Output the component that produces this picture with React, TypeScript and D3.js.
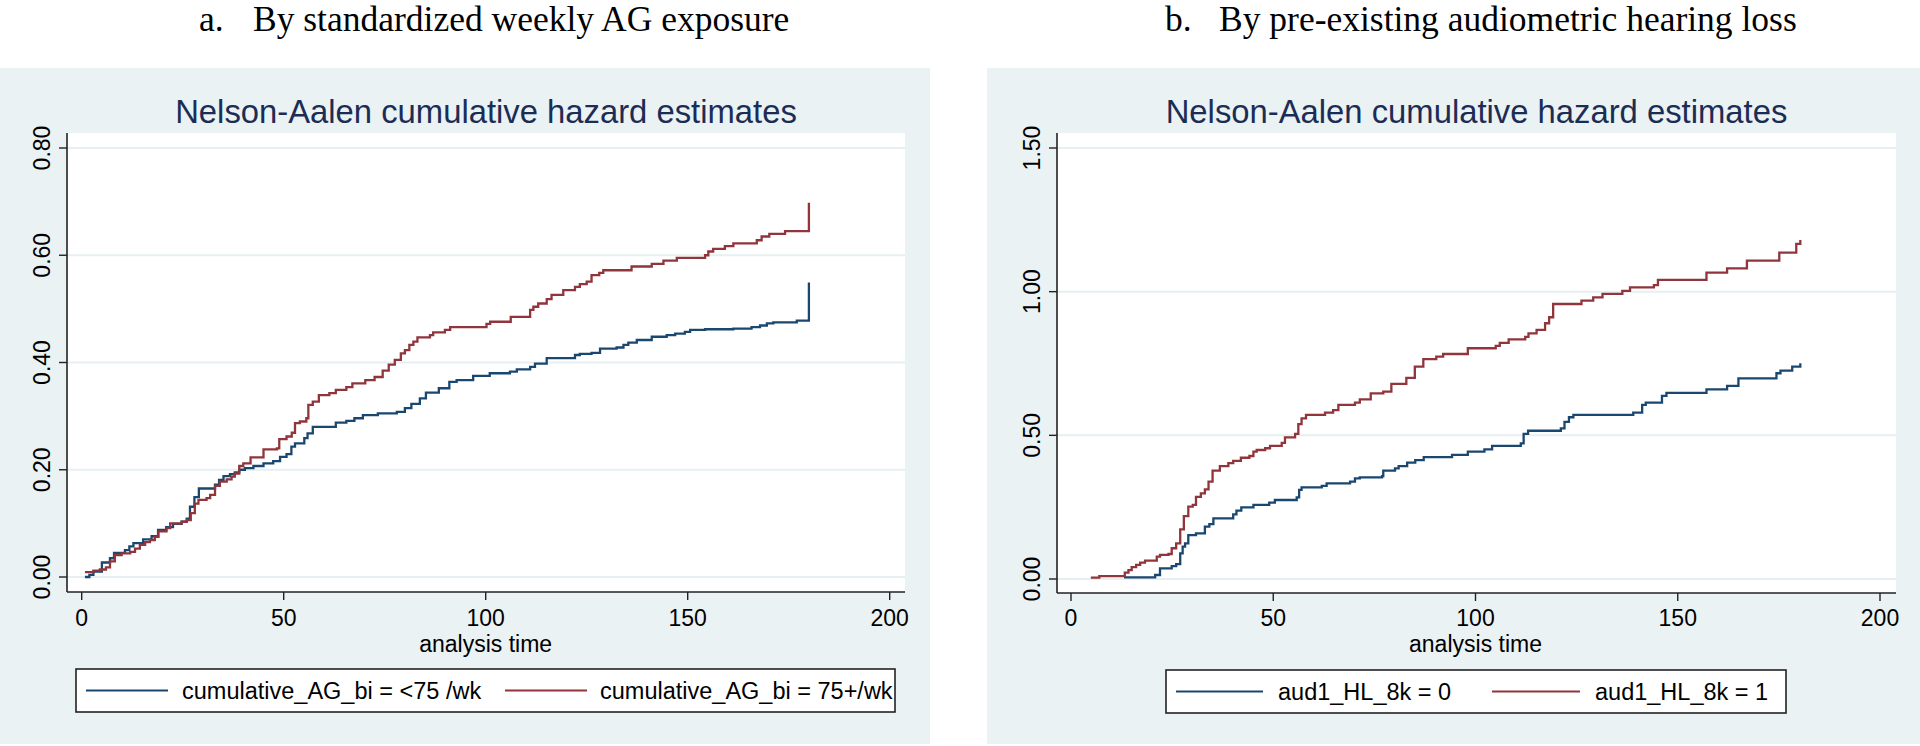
import React from "react";
import * as d3 from "d3";

type Pt = [number, number];

// ---------- data ----------
const xTickValues = [0, 50, 100, 150, 200];
const yTicksExposure = [0, 0.2, 0.4, 0.6, 0.8];
const yTicksHearing = [0, 0.5, 1.0, 1.5];

const panelLetters = ["a.", "b."];
const panelTitles = [
  "By standardized weekly AG exposure",
  "By pre-existing audiometric hearing loss",
];
const plotTitle = "Nelson-Aalen cumulative hazard estimates";
const xAxisTitle = "analysis time";
const legendExposure = ["cumulative_AG_bi = <75 /wk", "cumulative_AG_bi = 75+/wk"];
const legendHearing = ["aud1_HL_8k = 0", "aud1_HL_8k = 1"];

// (analysis time, cumulative hazard) step points
const exposureLow: Pt[] = [
  [0.8, 0], [1.9, 0.004], [2.9, 0.01], [5, 0.027], [7, 0.035], [8, 0.045], [10.7, 0.05],
  [11.8, 0.057], [12.8, 0.063], [15.2, 0.07], [17.3, 0.076], [18.9, 0.088], [20.9, 0.093],
  [22.6, 0.099], [24.7, 0.103], [26, 0.109], [26.8, 0.131], [27.9, 0.149], [29, 0.165],
  [33, 0.172], [34, 0.181], [35.1, 0.188], [36.7, 0.192], [37.9, 0.195], [39, 0.2],
  [40.4, 0.203], [42.5, 0.207], [45, 0.212], [47.4, 0.216], [49.1, 0.224], [50.7, 0.229],
  [51.9, 0.243], [52.8, 0.249], [55.1, 0.259], [55.9, 0.268], [57.2, 0.28], [62.9, 0.288],
  [65.5, 0.291], [67.5, 0.296], [69.6, 0.302], [73.3, 0.305], [78, 0.308], [80, 0.315],
  [81.6, 0.323], [83.7, 0.333], [85.2, 0.344], [88.4, 0.352], [91, 0.364], [92.8, 0.367],
  [96.9, 0.375], [101, 0.38], [106, 0.383], [107.7, 0.387], [111, 0.392], [112.2, 0.398],
  [115.1, 0.408], [122.1, 0.414], [123.3, 0.416], [126.2, 0.418], [128.3, 0.426],
  [132.4, 0.428], [134.1, 0.433], [135.3, 0.437], [137.4, 0.442], [141.1, 0.448],
  [144.8, 0.451], [146.9, 0.454], [149.3, 0.457], [150.6, 0.461], [154.3, 0.462],
  [161.3, 0.463], [165.8, 0.466], [167.9, 0.469], [169.6, 0.473], [171.2, 0.475],
  [177, 0.478], [180, 0.549],
];

const exposureHigh: Pt[] = [
  [0.8, 0.009], [2.9, 0.012], [4.5, 0.014], [6, 0.018], [7, 0.029], [8.2, 0.041], [9.9, 0.044],
  [12, 0.047], [13.2, 0.053], [14.4, 0.06], [15.7, 0.065], [16.9, 0.069], [18.1, 0.075],
  [19, 0.085], [21, 0.091], [21.9, 0.1], [24.8, 0.103], [26, 0.106], [27, 0.119], [28, 0.137],
  [28.9, 0.144], [30.9, 0.147], [31.8, 0.153], [33, 0.17], [34.2, 0.178], [35.9, 0.182],
  [37.1, 0.187], [37.9, 0.193], [39, 0.207], [40, 0.212], [41.8, 0.223], [45, 0.238],
  [48.3, 0.24], [48.9, 0.257], [50.7, 0.262], [52, 0.269], [52.8, 0.287], [54, 0.29],
  [55.6, 0.296], [56.1, 0.321], [57.2, 0.327], [58.7, 0.339], [61.3, 0.343], [62.9, 0.349],
  [65.5, 0.354], [67, 0.361], [70.2, 0.367], [72.5, 0.373], [74.5, 0.385], [76, 0.396],
  [77.5, 0.405], [79, 0.417], [80, 0.423], [81.1, 0.433], [82.1, 0.439], [83.1, 0.447],
  [86.2, 0.451], [87, 0.456], [89.9, 0.461], [91.2, 0.466], [100.2, 0.472], [101.1, 0.476],
  [106.2, 0.485], [111, 0.498], [111.8, 0.504], [113, 0.51], [115.1, 0.518], [116.3, 0.526],
  [119.2, 0.535], [122.1, 0.541], [123.3, 0.546], [125, 0.551], [126.2, 0.563],
  [128.1, 0.567], [129.1, 0.572], [136.1, 0.579], [141.1, 0.584], [144, 0.59], [147.3, 0.595],
  [154.3, 0.6], [155.1, 0.607], [156.3, 0.612], [159.2, 0.617], [161.3, 0.622],
  [167.1, 0.628], [168.3, 0.635], [170.2, 0.64], [174.1, 0.645], [180, 0.698],
];

const hearingLoss0: Pt[] = [
  [13.1, 0.006], [20.8, 0.014], [22, 0.037], [24.9, 0.045], [26, 0.052], [27, 0.089],
  [27.6, 0.113], [28.2, 0.124], [29, 0.153], [30.9, 0.159], [33.1, 0.182], [34.2, 0.191],
  [35.2, 0.211], [40.1, 0.225], [40.9, 0.238], [42.1, 0.249], [45.1, 0.258], [49, 0.266],
  [50.4, 0.275], [55.8, 0.284], [56.4, 0.31], [57, 0.319], [62, 0.324], [63.2, 0.333],
  [69, 0.339], [70.2, 0.35], [71.4, 0.354], [76.9, 0.358], [77.2, 0.377], [80.1, 0.385],
  [81, 0.393], [83.1, 0.405], [85.1, 0.414], [87.2, 0.424], [94.2, 0.432], [98.1, 0.443],
  [102.2, 0.451], [104.1, 0.463], [111.2, 0.472], [111.9, 0.505], [113, 0.516],
  [121.1, 0.524], [122, 0.547], [123.1, 0.563], [124.2, 0.571], [139, 0.579], [141.2, 0.606],
  [142.1, 0.614], [146.1, 0.637], [147.2, 0.648], [157.1, 0.66], [162.2, 0.672],
  [165, 0.698], [174.4, 0.716], [175.4, 0.725], [178.3, 0.739], [180.3, 0.751],
];

const hearingLoss1: Pt[] = [
  [4.9, 0.005], [7, 0.01], [13.3, 0.022], [14.2, 0.031], [15, 0.041], [16.1, 0.049],
  [17.1, 0.057], [18.3, 0.064], [21.2, 0.078], [22, 0.084], [24.1, 0.087], [24.9, 0.107],
  [26, 0.124], [27, 0.173], [27.9, 0.219], [29, 0.252], [30.1, 0.258], [30.9, 0.286],
  [32.1, 0.298], [33.1, 0.312], [34, 0.339], [35, 0.377], [36.8, 0.393], [38.9, 0.403],
  [40.1, 0.411], [42, 0.422], [44.1, 0.428], [45.1, 0.443], [45.9, 0.449], [48, 0.455],
  [49.2, 0.463], [52.1, 0.474], [52.9, 0.493], [55.4, 0.505], [56.2, 0.539], [57, 0.559],
  [58.1, 0.571], [62.8, 0.579], [64.8, 0.588], [66.1, 0.606], [70.2, 0.614], [71.4, 0.625],
  [74.1, 0.646], [77.2, 0.652], [79.2, 0.679], [82.9, 0.7], [85, 0.739], [87.1, 0.765],
  [90.3, 0.774], [92, 0.783], [98.1, 0.803], [105, 0.811], [106, 0.822], [108.2, 0.834],
  [112.3, 0.843], [113.1, 0.855], [115.1, 0.867], [117.2, 0.89], [118.2, 0.911],
  [119.2, 0.957], [126.2, 0.969], [129.1, 0.98], [131.4, 0.992], [136.3, 1.003],
  [138.2, 1.015], [144.1, 1.023], [145.1, 1.041], [157.1, 1.066], [162.2, 1.081],
  [167.1, 1.108], [175.1, 1.136], [179.3, 1.166], [180.3, 1.18],
];

// ---------- style ----------
const BLUE = "#1A476F";
const RED = "#90353B";
const BG = "#EAF2F3";
const GRID = "#E6EFF1";
const TITLE_COLOR = "#1C2D55";
const SANS = "'Liberation Sans', Arial, sans-serif";
const SERIF = "'Liberation Serif', 'Times New Roman', serif";

type PanelCfg = {
  bg: { x: number; y: number; w: number; h: number };
  plot: { left: number; right: number; top: number; bottom: number };
  xRange: [number, number];
  yRange: [number, number];
  yMax: number;
  legendBox: { x1: number; x2: number; y1: number; y2: number };
  legendItems: { l1: number; l2: number; tx: number }[];
  letterX: number;
  titleX: number;
};

const panelA: PanelCfg = {
  bg: { x: 0, y: 68, w: 930, h: 676 },
  plot: { left: 67, right: 905, top: 133, bottom: 592 },
  xRange: [81.7, 889.7],
  yRange: [577, 148],
  yMax: 0.8,
  legendBox: { x1: 76, x2: 895, y1: 669, y2: 712 },
  legendItems: [
    { l1: 86, l2: 168, tx: 182 },
    { l1: 505, l2: 587, tx: 600 },
  ],
  letterX: 199,
  titleX: 253,
};

const panelB: PanelCfg = {
  bg: { x: 987, y: 68, w: 933, h: 676 },
  plot: { left: 1057, right: 1896, top: 133, bottom: 593 },
  xRange: [1071, 1880],
  yRange: [579, 148],
  yMax: 1.5,
  legendBox: { x1: 1166, x2: 1786, y1: 670, y2: 713 },
  legendItems: [
    { l1: 1176, l2: 1263, tx: 1278 },
    { l1: 1492, l2: 1580, tx: 1595 },
  ],
  letterX: 1165,
  titleX: 1219,
};

function Panel({
  cfg,
  series,
  colors,
  yTicks,
  legend,
  letter,
  title,
}: {
  cfg: PanelCfg;
  series: Pt[][];
  colors: string[];
  yTicks: number[];
  legend: string[];
  letter: string;
  title: string;
}) {
  const x = d3.scaleLinear().domain([0, 200]).range(cfg.xRange);
  const y = d3.scaleLinear().domain([0, cfg.yMax]).range(cfg.yRange);
  const line = d3
    .line<Pt>()
    .x((d) => x(d[0]))
    .y((d) => y(d[1]))
    .curve(d3.curveStepAfter);
  const fmt = d3.format(".2f");
  const p = cfg.plot;
  const cx = (p.left + p.right) / 2;

  return (
    <g>
      <text x={cfg.letterX} y={31} fontFamily={SERIF} fontSize={35.5} fill="#000">
        {letter}
      </text>
      <text x={cfg.titleX} y={31} fontFamily={SERIF} fontSize={35.5} fill="#000">
        {title}
      </text>
      <rect x={cfg.bg.x} y={cfg.bg.y} width={cfg.bg.w} height={cfg.bg.h} fill={BG} />
      <text x={cx} y={123} textAnchor="middle" fontFamily={SANS} fontSize={32.8} fill={TITLE_COLOR}>
        {plotTitle}
      </text>
      <rect x={p.left} y={p.top} width={p.right - p.left} height={p.bottom - p.top} fill="#fff" />
      {yTicks.map((t) => (
        <line key={"g" + t} x1={p.left} x2={p.right} y1={y(t)} y2={y(t)} stroke={GRID} strokeWidth={2} />
      ))}
      {series.map((s, i) => (
        <path key={i} d={line(s) || ""} fill="none" stroke={colors[i]} strokeWidth={2.3} />
      ))}
      {/* y axis */}
      <line x1={p.left} x2={p.left} y1={p.top} y2={p.bottom} stroke="#222" strokeWidth={1.6} />
      {yTicks.map((t) => (
        <g key={"y" + t}>
          <line x1={p.left - 8} x2={p.left} y1={y(t)} y2={y(t)} stroke="#222" strokeWidth={1.4} />
          <text
            transform={`translate(${p.left - 17},${y(t)}) rotate(-90)`}
            textAnchor="middle"
            fontFamily={SANS}
            fontSize={23}
            fill="#000"
          >
            {fmt(t)}
          </text>
        </g>
      ))}
      {/* x axis */}
      <line x1={p.left} x2={p.right} y1={p.bottom} y2={p.bottom} stroke="#222" strokeWidth={1.6} />
      {xTickValues.map((t) => (
        <g key={"x" + t}>
          <line x1={x(t)} x2={x(t)} y1={p.bottom} y2={p.bottom + 8} stroke="#222" strokeWidth={1.4} />
          <text x={x(t)} y={626} textAnchor="middle" fontFamily={SANS} fontSize={23} fill="#000">
            {t}
          </text>
        </g>
      ))}
      <text x={x(100)} y={652} textAnchor="middle" fontFamily={SANS} fontSize={23} fill="#000">
        {xAxisTitle}
      </text>
      {/* legend */}
      <rect
        x={cfg.legendBox.x1}
        y={cfg.legendBox.y1}
        width={cfg.legendBox.x2 - cfg.legendBox.x1}
        height={cfg.legendBox.y2 - cfg.legendBox.y1}
        fill="#fff"
        stroke="#222"
        strokeWidth={1.6}
      />
      {legend.map((lab, i) => {
        const it = cfg.legendItems[i];
        const ly = (cfg.legendBox.y1 + cfg.legendBox.y2) / 2;
        return (
          <g key={lab}>
            <line x1={it.l1} x2={it.l2} y1={ly} y2={ly} stroke={colors[i]} strokeWidth={2.2} />
            <text x={it.tx} y={ly + 8} fontFamily={SANS} fontSize={23.5} fill="#000">
              {lab}
            </text>
          </g>
        );
      })}
    </g>
  );
}

export default function App() {
  return (
    <svg
      width={1920}
      height={746}
      viewBox="0 0 1920 746"
      style={{ position: "absolute", left: 0, top: 0, background: "#fff" }}
    >
      <rect x={0} y={0} width={1920} height={746} fill="#fff" />
      <Panel
        cfg={panelA}
        series={[exposureLow, exposureHigh]}
        colors={[BLUE, RED]}
        yTicks={yTicksExposure}
        legend={legendExposure}
        letter={panelLetters[0]}
        title={panelTitles[0]}
      />
      <Panel
        cfg={panelB}
        series={[hearingLoss0, hearingLoss1]}
        colors={[BLUE, RED]}
        yTicks={yTicksHearing}
        legend={legendHearing}
        letter={panelLetters[1]}
        title={panelTitles[1]}
      />
    </svg>
  );
}
